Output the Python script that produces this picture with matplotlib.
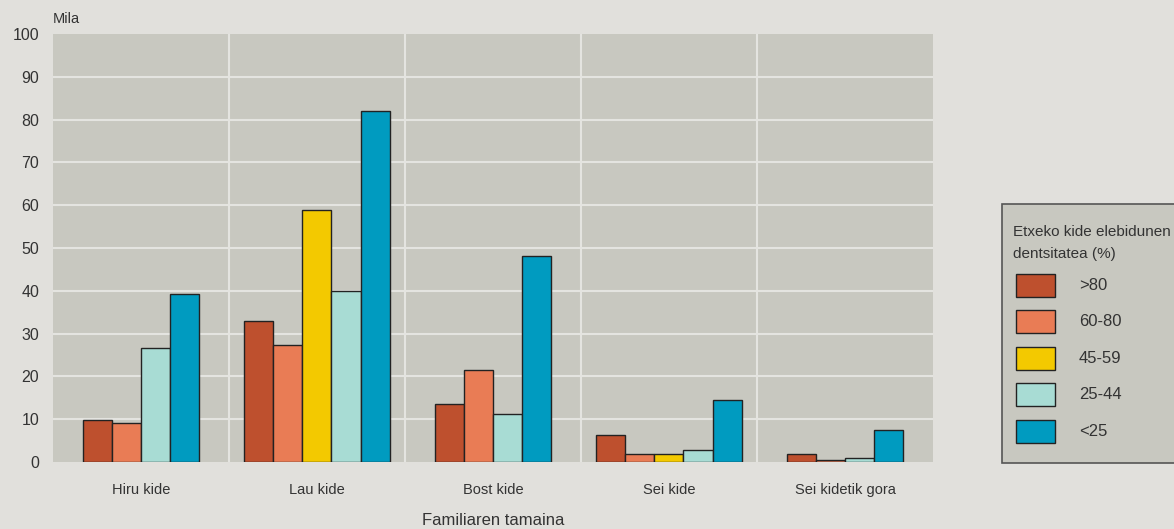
import numpy as np
import matplotlib.pyplot as plt
from matplotlib.patches import Rectangle
from matplotlib import font_manager

# Data (thousands)
categories = ['Hiru kide', 'Lau kide', 'Bost kide', 'Sei kide', 'Sei kidetik gora']
groups = ['>80', '60-80', '45-59', '25-44', '<25']
colors = ['#BE502E', '#E97C55', '#F3C900', '#A8DCD4', '#009BC0']
# None = no bar for that group in that category
values = {
    '>80':   [9.8, 32.9, 13.5, 6.4, 1.9],
    '60-80': [9.2, 27.3, 21.4, 1.9, 0.5],
    '45-59': [None, 58.9, None, 1.9, None],
    '25-44': [26.7, 40.0, 11.3, 2.7, 0.9],
    '<25':   [39.2, 82.0, 48.1, 14.5, 7.5],
}

names = {f.name for f in font_manager.fontManager.ttflist}
fam = 'Liberation Sans Narrow' if 'Liberation Sans Narrow' in names else 'Liberation Sans'
plt.rcParams['font.family'] = [fam, 'DejaVu Sans']

bg = '#E1E0DC'
panel = '#C8C8C0'
text_c = '#333333'

fig = plt.figure(figsize=(11.74, 5.29), dpi=100, facecolor=bg)
ax = fig.add_axes([0.0451, 0.1267, 0.7496, 0.8090], facecolor=panel)

width = 0.165
for ci, cat in enumerate(categories):
    present = [g for g in groups if values[g][ci] is not None]
    n = len(present)
    for k, g in enumerate(present):
        x = ci + (k - (n - 1) / 2) * width
        ax.bar(x, values[g][ci], width=width, color=colors[groups.index(g)],
               edgecolor='#222222', linewidth=1.0, zorder=3)

ax.set_xlim(-0.5, len(categories) - 0.5)
ax.set_ylim(0, 100)
ax.set_yticks(np.arange(0, 101, 10))
ax.set_xticks(range(len(categories)))
ax.set_xticklabels(categories)
for y in range(10, 100, 10):
    ax.axhline(y, color='#E4E4E0', linewidth=1.5, zorder=1)
for x in np.arange(0.5, len(categories) - 0.5, 1):
    ax.axvline(x, color='#E4E4E0', linewidth=1.5, zorder=1)
for s in ax.spines.values():
    s.set_visible(False)
ax.tick_params(length=0, colors=text_c)
ax.tick_params(axis='y', labelsize=11.5, pad=10)
ax.tick_params(axis='x', labelsize=10.5, pad=15)
ax.set_xlabel('Familiaren tamaina', fontsize=12, color=text_c, labelpad=12)
fig.text(53 / 1174, 1 - 19 / 529, 'Mila', fontsize=10.5, color=text_c, va='center', ha='left')

# Legend box (runs off the right edge like the reference)
fig.patches.append(Rectangle((1002 / 1174, 1 - 463 / 529), 200 / 1174, 259 / 529,
                             transform=fig.transFigure, facecolor=panel,
                             edgecolor='#555555', linewidth=1.2))
fig.text(1013 / 1174, 1 - 232 / 529, 'Etxeko kide elebidunen',
         fontsize=11, color=text_c, va='center', ha='left')
fig.text(1013 / 1174, 1 - 254 / 529, 'dentsitatea (%)',
         fontsize=11, color=text_c, va='center', ha='left')
for i, g in enumerate(groups):
    yc = 285 + i * 36.6
    fig.patches.append(Rectangle((1016 / 1174, 1 - (yc + 11.5) / 529), 39 / 1174, 23 / 529,
                                 transform=fig.transFigure, facecolor=colors[i],
                                 edgecolor='#222222', linewidth=1.0))
    fig.text(1079 / 1174, 1 - yc / 529, g, fontsize=12, color=text_c, va='center', ha='left')

fig.savefig('out.png', dpi=100, facecolor=bg)
